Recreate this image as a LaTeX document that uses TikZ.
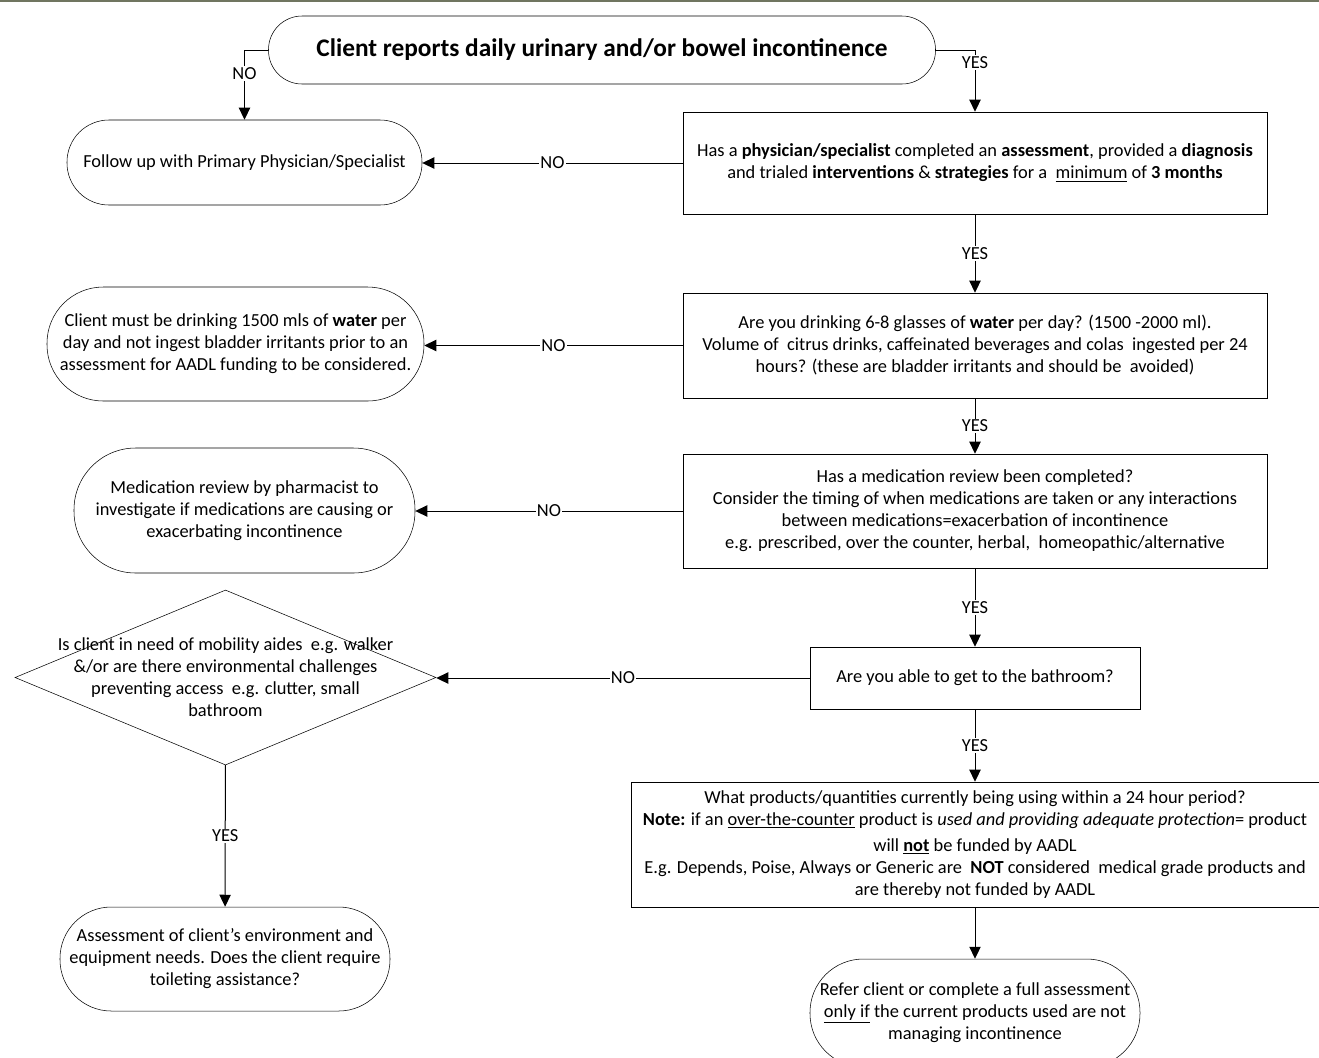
\documentclass[tikz,border=0pt]{standalone}
\usepackage{fontspec}
\setmainfont{Carlito}
\usetikzlibrary{arrows.meta,shapes.geometric}

\definecolor{frameolive}{RGB}{112,117,96}

\begin{document}
\begin{tikzpicture}[
		x=0.75pt, y=-0.75pt,
		every node/.style={font=\fontsize{13.8}{16.5}\selectfont, align=center},
		term/.style 2 args={draw, rectangle, inner sep=0pt, minimum width=#1*0.75pt, minimum height=#2*0.75pt, rounded corners=#2*0.37pt},
		box/.style 2 args={draw, rectangle, inner sep=0pt, minimum width=#1*0.75pt, minimum height=#2*0.75pt},
		dec/.style 2 args={draw, diamond, inner sep=0pt, minimum width=#1*0.75pt, minimum height=#2*0.75pt},
		lbl/.style={fill=white, inner sep=1pt},
		arr/.style={-{Triangle[length=9pt,width=8.5pt]}, line width=0.75pt}
		]
		\useasboundingbox (0,0) rectangle (1319,1057);
		\draw[frameolive, line width=1.5pt] (0,1) -- (1319,1);
		
		\node[term={667}{68}, font=\fontsize{19}{22}\selectfont\bfseries] (report) at (602,50)
			{Client reports daily urinary and/or bowel incontinence};
		\node[term={355}{85}] (followup) at (244.5,162.5) {Follow up with Primary Physician/Specialist};
		\node[box={584}{102}] (physician) at (975,163)
			{Has a \textbf{physician/specialist} completed an \textbf{assessment}, provided a \textbf{diagnosis}\\
			and trialed \textbf{interventions} \& \textbf{strategies} for a\ \ \underline{minimum} of \textbf{3 months}};
		\node[term={377}{114}] (waterrule) at (235.5,344)
			{Client must be drinking 1500 mls of \textbf{water} per\\
			day and not ingest bladder irritants prior to an\\
			assessment for AADL funding to be considered.};
		\node[box={584}{105}] (water) at (975,345.5)
			{Are you drinking 6-8 glasses of \textbf{water} per day? (1500 -2000 ml).\\
			Volume of\ \ citrus drinks, caffeinated beverages and colas\ \ ingested per 24\\
			hours? (these are bladder irritants and should be\ \ avoided)};
		\node[term={341}{125}] (pharmacist) at (244.5,510.5)
			{Medication review by pharmacist to\\
			investigate if medications are causing or\\
			exacerbating incontinence};
		\node[box={584}{114}] (medreview) at (975,511)
			{Has a medication review been completed?\\
			Consider the timing of when medications are taken or any interactions\\
			between medications=exacerbation of incontinence\\
			e.g. prescribed, over the counter, herbal,\ \ homeopathic/alternative};
		\node[dec={421}{175}, label={[align=center]center:{Is client in need of mobility aides\ \ e.g. walker\\
			\&/or are there environmental challenges\\
			preventing access\ \ e.g. clutter, small\\
			bathroom}}] (mobility) at (225.5,677.5) {};
		\node[box={330}{62}] (bathroom) at (975,678) {Are you able to get to the bathroom?};
		\node[box={688}{125}] (products) at (975,844.5)
			{What products/quantities currently being using within a 24 hour period?\\
			\textbf{Note:} if an \underline{over-the-counter} product is \textit{used and providing adequate protection}= product\\[3pt]
			will \textbf{\underline{not}} be funded by AADL\\
			E.g. Depends, Poise, Always or Generic are\ \ \textbf{NOT} considered\ \ medical grade products and\\
			are thereby not funded by AADL};
		\node[term={330}{104}] (environment) at (225,959)
			{Assessment of client’s environment and\\
			equipment needs. Does the client require\\
			toileting assistance?};
		\node[term={330}{108}] (refer) at (975,1013)
			{Refer client or complete a full assessment\\
			\underline{only if} the current products used are not\\
			managing incontinence};
		
		\draw[arr] (report.west) -| node[lbl, pos=0.67] {NO} (followup.north);
		\draw[arr] (report.east) -| node[lbl, pos=0.6] {YES} (physician.north);
		\draw[arr] (physician.west) -- node[lbl] {NO} (physician.west -| followup.east);
		\draw[arr] (physician) -- node[lbl] {YES} (water);
		\draw[arr] (water.west) -- node[lbl] {NO} (water.west -| waterrule.east);
		\draw[arr] (water) -- node[lbl] {YES} (medreview);
		\draw[arr] (medreview.west) -- node[lbl] {NO} (medreview.west -| pharmacist.east);
		\draw[arr] (medreview) -- node[lbl] {YES} (bathroom);
		\draw[arr] (bathroom.west) -- node[lbl] {NO} (bathroom.west -| mobility.east);
		\draw[arr] (bathroom) -- node[lbl] {YES} (products);
		\draw[arr] (mobility) -- node[lbl] {YES} (environment);
		\draw[arr] (products) -- (refer);
		\end{tikzpicture}
\end{document}
